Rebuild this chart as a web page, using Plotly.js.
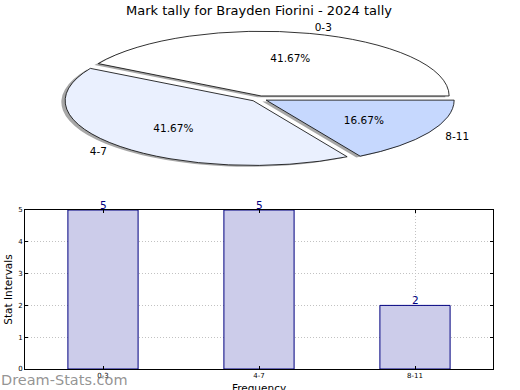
<!DOCTYPE html>
<html><head><meta charset="utf-8">
<script src="https://cdn.plot.ly/plotly-3.0.1.min.js"></script>
<style>html,body{margin:0;padding:0;background:#fff}#chart{width:520px;height:390px}</style>
</head><body><div id="chart"></div>
<script>
// ---- data ----
const categories = ['0-3', '4-7', '8-11'];
const counts = [5, 5, 2];
const yTicks = [0, 1, 2, 3, 4, 5];
const chartTitle = 'Mark tally for Brayden Fiorini - 2024 tally';
const xTitle = 'Frequency';
const yTitle = 'Stat Intervals';
const watermark = 'Dream-Stats.com';

// ---- style ----
const FONT = 'DejaVu Sans, sans-serif';
const sliceColors = ['#ffffff', '#eaf0fe', '#c6d8fe'];
const PULL = 0.044;
const RX = 188, RY = 64.7;        // ellipse radii (px) of the flattened pie
const SHADOW = [-3.8, 1.3];       // shadow offset (px)
const ROT = -60;
const XTITLE_SHIFT = 4;
const pieDomain = {x: [0, 1], y: [0.5494, 0.9156]};

const shadowTrace = {
  type: 'pie', values: counts, labels: categories, sort: false,
  direction: 'counterclockwise', rotation: ROT, pull: PULL, domain: pieDomain,
  marker: {colors: categories.map(() => 'rgba(60,60,60,0.45)'), line: {width: 0}},
  textposition: 'outside', texttemplate: '%{label}',
  textfont: {family: FONT, size: 10.5, color: '#000'},
  showlegend: false, hoverinfo: 'skip', name: 'shadow'
};
const pieTrace = {
  type: 'pie', values: counts, labels: categories, sort: false,
  direction: 'counterclockwise', rotation: ROT, pull: PULL, domain: pieDomain,
  marker: {colors: sliceColors, line: {color: '#000', width: 0.8}},
  textposition: 'outside', texttemplate: '%{percent:.2%}',
  textfont: {family: FONT, size: 10.5, color: '#000'},
  showlegend: false, hoverinfo: 'skip', name: 'pie'
};
const barTrace = {
  type: 'bar', x: categories, y: counts, width: 0.45,
  marker: {color: '#ccccea', line: {color: '#000080', width: 1}},
  showlegend: false, hoverinfo: 'skip'
};

const layout = {
  width: 520, height: 390,
  margin: {l: 25, r: 27, t: 0, b: 21},
  paper_bgcolor: '#fff', plot_bgcolor: '#fff',
  font: {family: FONT, color: '#000'},
  title: {text: chartTitle, font: {family: FONT, size: 13, color: '#000'},
          x: 0.5, xref: 'paper', xanchor: 'center', y: 1 - 10 / 390, yanchor: 'middle'},
  xaxis: {
    domain: [0, 1], type: 'category', range: [-0.5, 2.5],
    showline: true, linecolor: '#000', linewidth: 1, mirror: 'ticks',
    ticks: 'inside', ticklen: 3, tickcolor: '#000',
    tickfont: {family: FONT, size: 7, color: '#000'},
    showgrid: true, gridcolor: '#c2c2c2', griddash: '1px,2px', gridwidth: 1,
    zeroline: false, fixedrange: true,
    title: {text: xTitle, font: {family: FONT, size: 10.5, color: '#000'}}
  },
  yaxis: {
    domain: [0, 159 / 369], range: [0, 5], tickvals: yTicks, ticktext: yTicks.map(String),
    showline: true, linecolor: '#000', linewidth: 1, mirror: 'ticks',
    ticks: 'inside', ticklen: 3, tickcolor: '#000',
    tickfont: {family: FONT, size: 7, color: '#000'},
    showgrid: true, gridcolor: '#c2c2c2', griddash: '1px,2px', gridwidth: 1,
    zeroline: false, fixedrange: true,
    title: {text: yTitle, font: {family: FONT, size: 10.5, color: '#000'}, standoff: 3}
  },
  annotations: categories.map((c, i) => ({
    x: c, y: counts[i], xref: 'x', yref: 'y', text: String(counts[i]),
    showarrow: false, yanchor: 'bottom', yshift: -3,
    font: {family: FONT, size: 10.5, color: '#000080'}
  })).concat([{
    xref: 'paper', yref: 'paper', x: 0, y: 0, xanchor: 'left', yanchor: 'middle',
    xshift: -26, yshift: -11, text: watermark, showarrow: false,
    font: {family: FONT, size: 14.5, color: 'rgba(120,120,120,0.8)'}
  }])
};

Plotly.newPlot('chart', [shadowTrace, pieTrace, barTrace], layout, {staticPlot: true}).then(gd => {
  // grid above bars
  const sub = gd.querySelector('.cartesianlayer .subplot.xy');
  if (sub) {
    const grid = sub.querySelector('.gridlayer');
    const plot = sub.querySelector('.plot');
    if (grid && plot) sub.insertBefore(grid, plot.nextSibling);
  }
  // x title sits partly below the page edge as in the reference
  const xt = gd.querySelector('.g-xtitle');
  if (xt) xt.setAttribute('transform', `translate(0,${XTITLE_SHIFT}) ` + (xt.getAttribute('transform') || ''));
  // flatten pie into an ellipse & place texts
  const svg = gd.querySelector('.main-svg');
  const sr = svg.getBoundingClientRect();
  gd.querySelectorAll('.pielayer g.trace').forEach(el => {
    const cd = el.__data__;
    if (!cd) return;
    const cd0 = cd[0];
    const r = cd0.r, cx = cd0.cx, cy = cd0.cy;
    const sx = RX / r, sy = RY / r;
    const isShadow = cd0.trace.name === 'shadow';
    el.querySelectorAll('g.slice').forEach(sl => {
      const pt = sl.__data__;
      const path = sl.querySelector('path.surface');
      let tx = cx * (1 - sx), ty = cy * (1 - sy);
      if (isShadow) { tx += SHADOW[0]; ty += SHADOW[1]; }
      if (path) {
        path.setAttribute('transform', `translate(${tx},${ty}) scale(${sx},${sy})`);
        path.style.vectorEffect = 'non-scaling-stroke';
      }
      sl.querySelectorAll('path.textline').forEach(p => p.style.display = 'none');
      const txt = sl.querySelector('g.slicetext text');
      if (txt && pt && pt.pxmid) {
        const ux = pt.pxmid[0] / r, uy = pt.pxmid[1] / r;
        const d = isShadow ? 1.1 : 0.6;
        const px = cx + (PULL + d) * ux * RX, py = cy + (PULL + d) * uy * RY;
        const b = txt.getBoundingClientRect();
        const bx = b.left - sr.left, by = b.top - sr.top;
        let left;
        if (isShadow) left = ux >= 0 ? px : px - b.width;
        else left = px - b.width / 2;
        const dx = left - bx, dy = (py - b.height / 2) - by;
        const g = txt.parentNode;
        g.setAttribute('transform', `translate(${dx},${dy}) ` + (g.getAttribute('transform') || ''));
      }
    });
  });
});
</script>
</body></html>
